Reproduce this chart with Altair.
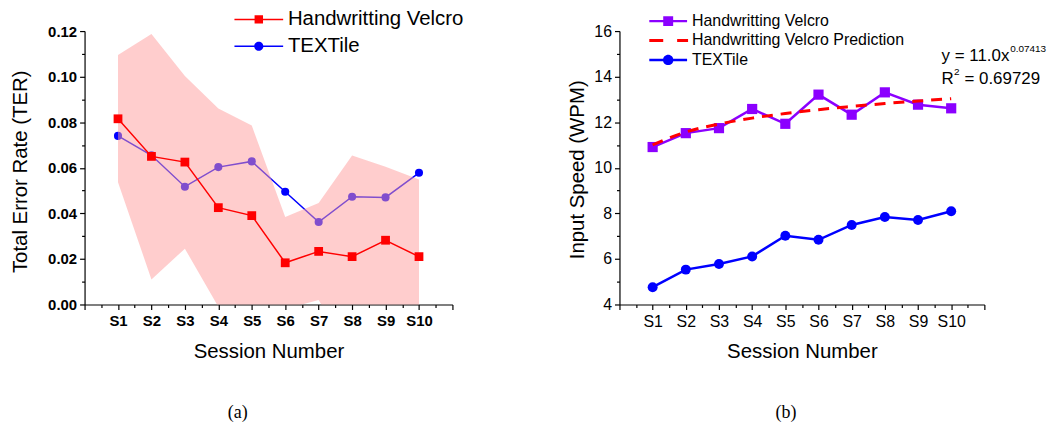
import altair as alt
import pandas as pd

# ---------------- data ----------------
sessions = list(range(1, 11))

# (a) Total Error Rate
ter_velcro = [0.0815, 0.065, 0.0625, 0.0425, 0.039, 0.0183, 0.0233, 0.021, 0.0282, 0.021]
ter_band_upper = [0.1095, 0.1187, 0.1003, 0.086, 0.0785, 0.0384, 0.0445, 0.0654, 0.0605, 0.0548]
ter_band_lower = [0.0537, 0.011, 0.0245, -0.001, -0.0005, -0.002, 0.002, -0.0235, -0.004, -0.013]
ter_textile = [0.074, 0.0655, 0.0517, 0.0603, 0.0628, 0.0495, 0.0362, 0.0473, 0.047, 0.0578]

# (b) Input speed
wpm_velcro = [10.91, 11.52, 11.74, 12.58, 11.93, 13.21, 12.33, 13.31, 12.77, 12.61]
wpm_prediction = [11.0, 11.57, 11.92, 12.18, 12.38, 12.55, 12.69, 12.82, 12.93, 13.03]
wpm_textile = [4.76, 5.53, 5.78, 6.11, 7.02, 6.84, 7.49, 7.84, 7.71, 8.09]

series_a = ["Handwritting Velcro", "TEXTile"]
series_b = ["Handwritting Velcro", "Handwritting Velcro Prediction", "TEXTile"]

eq_main = ["y = 11.0x"]
eq_exp = ["0.07413"]
r2_r = ["R"]
r2_sup = ["2"]
r2_val = ["= 0.69729"]

captions = ["(a)", "(b)"]

# ---------------- styles ----------------
RED = "#ff0000"
BLUE = "#0000ff"
PURPLE = "#8b00ff"
FONT = "Liberation Sans"

df_a = pd.DataFrame({"session": sessions, "velcro": ter_velcro, "lower": ter_band_lower,
                     "upper": ter_band_upper, "textile": ter_textile})
df_b = pd.DataFrame({"session": sessions, "velcro": wpm_velcro, "pred": wpm_prediction,
                     "textile": wpm_textile})
leg_a = pd.DataFrame({"series_a": series_a})
leg_b = pd.DataFrame({"series_b": series_b})

x_vals = [i * 0.5 for i in range(23)]
x_label_expr = "(datum.value % 1 === 0 && datum.value >= 1 && datum.value <= 10) ? 'S' + datum.value : ''"


def x_axis(bold, size):
    return alt.Axis(values=x_vals, labelExpr=x_label_expr,
                    tickSize={"condition": {"test": "datum.value % 1 === 0", "value": 5}, "value": 3},
                    labelOverlap=False, labelFlush=False, grid=False,
                    labelFont=FONT, labelFontSize=size, labelFontWeight="bold" if bold else "normal",
                    labelColor="black", labelPadding=4,
                    title="Session Number", titleFont=FONT, titleFontSize=20.5,
                    titleFontWeight="normal", titleColor="black", titleY=47.5, titleBaseline="middle",
                    domainColor="black", tickColor="black", domainWidth=1.2, tickWidth=1.2)


x_a = alt.X("session:Q", scale=alt.Scale(domain=[0, 11], nice=False, zero=False), axis=x_axis(True, 15))
x_b = alt.X("session:Q", scale=alt.Scale(domain=[0, 11], nice=False, zero=False), axis=x_axis(False, 16))

y_axis_a = alt.Axis(values=[i * 0.01 for i in range(13)],
                    labelExpr="round(datum.value*100) % 2 === 0 ? format(datum.value, '.2f') : ''",
                    tickSize={"condition": {"test": "round(datum.value*100) % 2 === 0", "value": 5}, "value": 3},
                    labelOverlap=False, labelFlush=False, grid=False,
                    labelFont=FONT, labelFontSize=15, labelFontWeight="bold", labelColor="black",
                    labelPadding=3,
                    title="Total Error Rate (TER)", titleFont=FONT, titleFontSize=20.5,
                    titleFontWeight="normal", titleColor="black", titleX=-64, titleY=141,
                    titleBaseline="middle", titleAngle=270,
                    domainColor="black", tickColor="black", domainWidth=1.2, tickWidth=1.2)

y_axis_b = alt.Axis(values=list(range(4, 17)),
                    labelExpr="datum.value % 2 === 0 ? datum.value : ''",
                    tickSize={"condition": {"test": "datum.value % 2 === 0", "value": 5}, "value": 3},
                    labelOverlap=False, labelFlush=False, grid=False,
                    labelFont=FONT, labelFontSize=16, labelFontWeight="normal", labelColor="black",
                    labelPadding=3,
                    title="Input Speed (WPM)", titleFont=FONT, titleFontSize=20.5,
                    titleFontWeight="normal", titleColor="black", titleX=-42, titleY=139,
                    titleBaseline="middle", titleAngle=270,
                    domainColor="black", tickColor="black", domainWidth=1.2, tickWidth=1.2)

y_scale_a = alt.Scale(domain=[0, 0.12], nice=False, zero=False)
y_scale_b = alt.Scale(domain=[4, 16], nice=False, zero=False)

# ---------------- panel (a) ----------------
base_a = alt.Chart(df_a)
tex_line_a = base_a.mark_line(color=BLUE, strokeWidth=1.5).encode(
    x=x_a, y=alt.Y("textile:Q", scale=y_scale_a, axis=y_axis_a))
tex_pts_a = base_a.mark_circle(color=BLUE, size=66, opacity=1).encode(
    x=x_a, y=alt.Y("textile:Q", scale=y_scale_a, axis=y_axis_a))
band_a = base_a.mark_area(color="#ff9b9b", opacity=0.5, clip=True).encode(
    x=x_a, y=alt.Y("lower:Q", scale=y_scale_a, axis=y_axis_a), y2="upper:Q")
vel_line_a = base_a.mark_line(color=RED, strokeWidth=1.5).encode(
    x=x_a, y=alt.Y("velcro:Q", scale=y_scale_a, axis=y_axis_a))
vel_pts_a = base_a.mark_square(color=RED, size=78, opacity=1).encode(
    x=x_a, y=alt.Y("velcro:Q", scale=y_scale_a, axis=y_axis_a))

shape_sq_a = ("M-4.9,-0.15H-0.8V0.15H-4.9Z M0.8,-0.15H4.9V0.15H0.8Z "
              "M-0.85,-0.85H0.85V0.85H-0.85Z")
shape_ci_a = ("M-4.9,-0.15H-0.8V0.15H-4.9Z M0.8,-0.15H4.9V0.15H0.8Z "
              "M-0.92,0A0.92,0.92,0,1,1,0.92,0A0.92,0.92,0,1,1,-0.92,0Z")

legend_a = alt.Legend(orient="none", legendX=165, legendY=-22, title=None, padding=0,
                      labelFont=FONT, labelFontSize=20.5, labelColor="black", labelLimit=0,
                      symbolSize=100, symbolStrokeWidth=0, labelOffset=19, rowPadding=6)
leg_layer_a = alt.Chart(leg_a).mark_point(filled=True, opacity=1).encode(
    color=alt.Color("series_a:N", scale=alt.Scale(domain=series_a, range=[RED, BLUE]), legend=legend_a),
    shape=alt.Shape("series_a:N", scale=alt.Scale(domain=series_a, range=[shape_sq_a, shape_ci_a]),
                    legend=legend_a),
).transform_filter("false")

panel_a = alt.layer(tex_line_a, tex_pts_a, band_a, vel_line_a, vel_pts_a, leg_layer_a).properties(
    width=370, height=275,
    title=alt.TitleParams(captions[0], orient="bottom", font="Liberation Serif", fontSize=18,
                          fontWeight="normal", color="black", offset=42, dx=-31, anchor="middle"))

# ---------------- panel (b) ----------------
base_b = alt.Chart(df_b)
vel_line_b = base_b.mark_line(color=PURPLE, strokeWidth=2.5).encode(
    x=x_b, y=alt.Y("velcro:Q", scale=y_scale_b, axis=y_axis_b))
vel_pts_b = base_b.mark_square(color=PURPLE, size=105, opacity=1).encode(
    x=x_b, y=alt.Y("velcro:Q", scale=y_scale_b, axis=y_axis_b))
pred_line_b = base_b.mark_line(color=RED, strokeWidth=3, strokeDash=[11, 8], interpolate="monotone").encode(
    x=x_b, y=alt.Y("pred:Q", scale=y_scale_b, axis=y_axis_b))
tex_line_b = base_b.mark_line(color=BLUE, strokeWidth=2.5).encode(
    x=x_b, y=alt.Y("textile:Q", scale=y_scale_b, axis=y_axis_b))
tex_pts_b = base_b.mark_circle(color=BLUE, size=100, opacity=1).encode(
    x=x_b, y=alt.Y("textile:Q", scale=y_scale_b, axis=y_axis_b))

shape_sq_b = ("M-3.8,-0.25H-1V0.25H-3.8Z M1,-0.25H3.8V0.25H1Z "
              "M-1,-1H1V1H-1Z")
shape_dash_b = "M-3.8,-0.3H-1V0.3H-3.8Z M1.8,-0.3H4V0.3H1.8Z"
shape_ci_b = ("M-3.8,-0.25H-0.95V0.25H-3.8Z M0.95,-0.25H3.8V0.25H0.95Z "
              "M-1.05,0A1.05,1.05,0,1,1,1.05,0A1.05,1.05,0,1,1,-1.05,0Z")

legend_b = alt.Legend(orient="none", legendX=41, legendY=-18, title=None, padding=0,
                      labelFont=FONT, labelFontSize=16, labelColor="black", labelLimit=0,
                      symbolSize=100, symbolStrokeWidth=0, labelOffset=16, rowPadding=3.5)
leg_layer_b = alt.Chart(leg_b).mark_point(filled=True, opacity=1).encode(
    color=alt.Color("series_b:N", scale=alt.Scale(domain=series_b, range=[PURPLE, RED, BLUE]),
                    legend=legend_b),
    shape=alt.Shape("series_b:N", scale=alt.Scale(domain=series_b, range=[shape_sq_b, shape_dash_b, shape_ci_b]),
                    legend=legend_b),
).transform_filter("false")

ann_style = dict(font=FONT, color="black", align="left", baseline="alphabetic")
ann1 = alt.Chart(pd.DataFrame({"t": eq_main})).mark_text(fontSize=17, **ann_style).encode(
    text="t:N", x=alt.value(324), y=alt.value(30))
ann2 = alt.Chart(pd.DataFrame({"t": eq_exp})).mark_text(fontSize=10, **ann_style).encode(
    text="t:N", x=alt.value(393), y=alt.value(21))
ann3 = alt.Chart(pd.DataFrame({"t": r2_r})).mark_text(fontSize=17, **ann_style).encode(
    text="t:N", x=alt.value(324), y=alt.value(53))
ann4 = alt.Chart(pd.DataFrame({"t": r2_sup})).mark_text(fontSize=10, **ann_style).encode(
    text="t:N", x=alt.value(336.5), y=alt.value(44))
ann5 = alt.Chart(pd.DataFrame({"t": r2_val})).mark_text(fontSize=17, **ann_style).encode(
    text="t:N", x=alt.value(347), y=alt.value(53))

panel_b = alt.layer(vel_line_b, vel_pts_b, pred_line_b, tex_line_b, tex_pts_b, leg_layer_b,
                    ann1, ann2, ann3, ann4, ann5).properties(
    width=367, height=275,
    title=alt.TitleParams(captions[1], orient="bottom", font="Liberation Serif", fontSize=18,
                          fontWeight="normal", color="black", offset=42, dx=-16, anchor="middle"))

chart = alt.hconcat(panel_a, panel_b, spacing=168, bounds="flush").resolve_scale(
    color="independent", shape="independent"
).properties(
    padding={"left": 3, "top": 0, "right": 0, "bottom": 0}, background="white"
).configure_view(stroke=None)

chart.save("out.html", embed_options={"renderer": "svg", "actions": False})
